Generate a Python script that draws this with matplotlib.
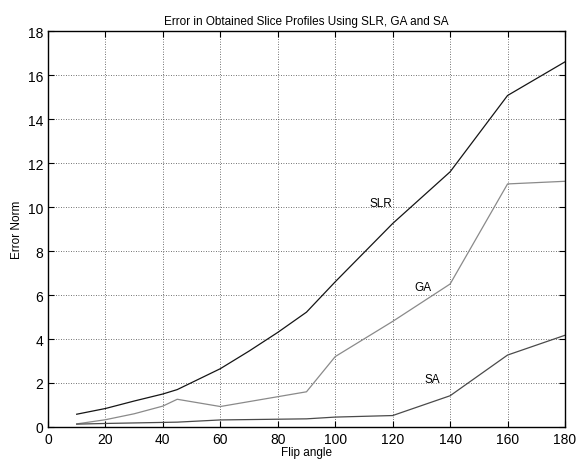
import matplotlib
matplotlib.use("Agg")
import matplotlib.pyplot as plt

title = "Error in Obtained Slice Profiles Using SLR, GA and SA"
slr_x = [10, 20, 30, 40, 45, 60, 70, 80, 90, 100, 120, 140, 160, 180]
slr_y = [0.58, 0.84, 1.18, 1.5, 1.7, 2.65, 3.45, 4.3, 5.22, 6.6, 9.25, 11.6, 15.07, 16.6]
ga_x = [10, 20, 30, 40, 45, 60, 90, 100, 120, 140, 160, 180]
ga_y = [0.14, 0.33, 0.6, 0.95, 1.26, 0.93, 1.6, 3.2, 4.8, 6.5, 11.05, 11.17]
sa_x = [10, 20, 45, 60, 90, 100, 120, 140, 160, 180]
sa_y = [0.13, 0.16, 0.22, 0.32, 0.37, 0.45, 0.52, 1.42, 3.27, 4.17]
xticks = list(range(0, 181, 20))
yticks = list(range(0, 19, 2))

plt.rcParams['font.family'] = ['Liberation Sans', 'DejaVu Sans']
fig = plt.figure(figsize=(5.78, 4.6), dpi=100)
ax = fig.add_axes([0.083, 0.0696, 0.8945, 0.8607])

ax.plot(slr_x, slr_y, color='#151515', lw=0.9)
ax.plot(ga_x, ga_y, color='#8a8a8a', lw=0.9)
ax.plot(sa_x, sa_y, color='#4a4a4a', lw=0.9)

ax.text(116, 10.2, 'SLR', fontsize=8.5, ha='center', va='center')
ax.text(130.6, 6.35, 'GA', fontsize=8.5, ha='center', va='center')
ax.text(133.7, 2.2, 'SA', fontsize=8.5, ha='center', va='center')

ax.set_xlim(0, 180)
ax.set_ylim(0, 18)
ax.set_xticks(xticks)
ax.set_yticks(yticks)
ax.tick_params(direction='in', top=True, right=True, labelsize=10, length=4, width=0.8)
ax.grid(True, linestyle=(0, (1, 2)), color='#444444', lw=0.6)
for s in ax.spines.values():
    s.set_linewidth(1.0)
ax.set_title(title, fontsize=8.5, pad=5)
ax.set_xlabel('Flip angle', fontsize=8.5, labelpad=0)
ax.set_ylabel('Error Norm', fontsize=8.5, labelpad=3)

fig.savefig('out.png', dpi=100)
